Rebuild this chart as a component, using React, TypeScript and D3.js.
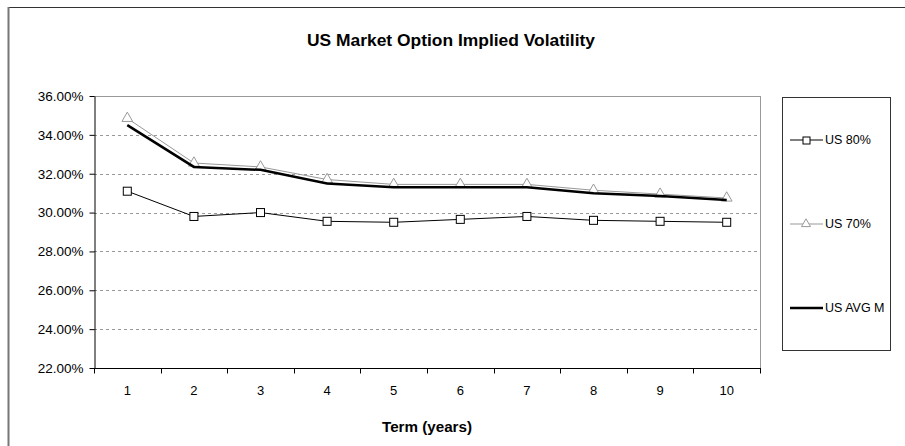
import React, { useEffect, useRef } from 'react'
import * as d3 from 'd3'

const terms = [1, 2, 3, 4, 5, 6, 7, 8, 9, 10]
const us80 = [31.1, 29.8, 30.0, 29.55, 29.5, 29.65, 29.8, 29.6, 29.55, 29.5]
const us70 = [34.85, 32.55, 32.35, 31.7, 31.45, 31.45, 31.45, 31.15, 30.95, 30.75]
const usAvg = [34.5, 32.35, 32.2, 31.5, 31.3, 31.3, 31.3, 31.0, 30.85, 30.65]
const yTicks = [22, 24, 26, 28, 30, 32, 34, 36]

const W = 905
const H = 446
const font = '"Liberation Sans", Arial, sans-serif'

function App () {
  const ref = useRef<SVGSVGElement>(null)

  useEffect(() => {
    const svg = d3.select(ref.current)
    svg.selectAll('*').remove()

    const left = 94
    const right = 760
    const top = 96
    const bottom = 368

    // frame
    svg.append('rect').attr('x', 0).attr('y', 0).attr('width', W).attr('height', H).attr('fill', '#fff')
    svg.append('line').attr('x1', 8).attr('x2', W).attr('y1', 7.5).attr('y2', 7.5).attr('stroke', '#333')
    svg.append('line').attr('x1', 8.5).attr('x2', 8.5).attr('y1', 7).attr('y2', H).attr('stroke', '#777').attr('stroke-width', 2)

    svg.append('text')
      .attr('x', 451).attr('y', 46)
      .attr('text-anchor', 'middle')
      .attr('font-family', font).attr('font-size', 17).attr('font-weight', 'bold')
      .attr('textLength', 288).attr('lengthAdjust', 'spacingAndGlyphs')
      .text('US Market Option Implied Volatility')

    const x = d3.scaleBand<number>().domain(terms).range([left, right])
    const y = d3.scaleLinear().domain([22, 36]).range([bottom, top])
    const cx = (d: number) => (x(d) as number) + x.bandwidth() / 2

    // grid
    svg.append('g').selectAll('line')
      .data(yTicks.slice(1, -1))
      .enter().append('line')
      .attr('x1', left).attr('x2', right)
      .attr('y1', d => Math.round(y(d)) + 0.5).attr('y2', d => Math.round(y(d)) + 0.5)
      .attr('stroke', '#999').attr('stroke-dasharray', '3,3')

    // plot border
    svg.append('line').attr('x1', left).attr('x2', right).attr('y1', top + 0.5).attr('y2', top + 0.5).attr('stroke', '#999')
    svg.append('line').attr('x1', right + 0.5).attr('x2', right + 0.5).attr('y1', top).attr('y2', bottom).attr('stroke', '#999')

    // y axis
    const yAxis = svg.append('g')
      .attr('transform', `translate(${left + 0.5},0)`)
      .call(d3.axisLeft(y).tickValues(yTicks).tickSize(5).tickSizeOuter(0).tickFormat(d => (d as number).toFixed(2) + '%'))
    yAxis.selectAll('path,line').attr('stroke', '#000')
    yAxis.selectAll('text').attr('font-family', font).attr('font-size', 13.5).attr('fill', '#000').attr('x', -11)

    // x axis
    const xAxis = svg.append('g').attr('transform', `translate(0,${bottom + 0.5})`)
    xAxis.append('line').attr('x1', left).attr('x2', right + 1).attr('stroke', '#000')
    xAxis.selectAll('.tk')
      .data(d3.range(terms.length + 1))
      .enter().append('line')
      .attr('x1', i => Math.round(left + i * x.step()) + 0.5)
      .attr('x2', i => Math.round(left + i * x.step()) + 0.5)
      .attr('y1', 0).attr('y2', 5).attr('stroke', '#000')
    xAxis.selectAll('text')
      .data(terms)
      .enter().append('text')
      .attr('x', d => cx(d)).attr('y', 26)
      .attr('text-anchor', 'middle')
      .attr('font-family', font).attr('font-size', 13)
      .text(d => d)

    svg.append('text')
      .attr('x', 427).attr('y', 432)
      .attr('text-anchor', 'middle')
      .attr('font-family', font).attr('font-size', 14.5).attr('font-weight', 'bold')
      .attr('textLength', 90).attr('lengthAdjust', 'spacingAndGlyphs')
      .text('Term (years)')

    const line = d3.line<number>().x((d, i) => cx(terms[i])).y(d => y(d))

    // US 70%
    svg.append('path').attr('d', line(us70)).attr('fill', 'none').attr('stroke', '#999').attr('stroke-width', 1)
    const tri = d3.symbol().type(d3.symbolTriangle).size(50)
    svg.append('g').selectAll('path')
      .data(us70)
      .enter().append('path')
      .attr('d', tri())
      .attr('transform', (d, i) => `translate(${cx(terms[i])},${y(d)})`)
      .attr('fill', '#fff').attr('stroke', '#999')

    // US AVG M
    svg.append('path').attr('d', line(usAvg)).attr('fill', 'none').attr('stroke', '#000').attr('stroke-width', 2.5)

    // US 80%
    svg.append('path').attr('d', line(us80)).attr('fill', 'none').attr('stroke', '#000').attr('stroke-width', 1)
    svg.append('g').selectAll('rect')
      .data(us80)
      .enter().append('rect')
      .attr('x', (d, i) => cx(terms[i]) - 4).attr('y', d => y(d) - 4)
      .attr('width', 8).attr('height', 8)
      .attr('fill', '#fff').attr('stroke', '#000')

    // legend
    const lg = svg.append('g')
    lg.append('rect').attr('x', 782.5).attr('y', 97.5).attr('width', 108).attr('height', 253)
      .attr('fill', '#fff').attr('stroke', '#333')
    const items = [
      { name: 'US 80%', color: '#000', width: 1, marker: 'square', yy: 140 },
      { name: 'US 70%', color: '#999', width: 1, marker: 'triangle', yy: 224 },
      { name: 'US AVG M', color: '#000', width: 2.5, marker: 'none', yy: 308 }
    ]
    items.forEach(it => {
      lg.append('line').attr('x1', 790).attr('x2', 823).attr('y1', it.yy).attr('y2', it.yy)
        .attr('stroke', it.color).attr('stroke-width', it.width)
      if (it.marker === 'square') {
        lg.append('rect').attr('x', 803).attr('y', it.yy - 3).attr('width', 7).attr('height', 7)
          .attr('fill', '#fff').attr('stroke', it.color)
      } else if (it.marker === 'triangle') {
        lg.append('path').attr('d', d3.symbol().type(d3.symbolTriangle).size(35)())
          .attr('transform', `translate(806,${it.yy})`)
          .attr('fill', '#fff').attr('stroke', it.color)
      }
      lg.append('text').attr('x', 825).attr('y', it.yy + 4)
        .attr('font-family', font).attr('font-size', 12.5)
        .text(it.name)
    })
  }, [])

  return (
    <svg ref={ref} width={W} height={H} style={{ display: 'block', position: 'absolute', left: 0, top: 0 }} />
  )
}

export default App
